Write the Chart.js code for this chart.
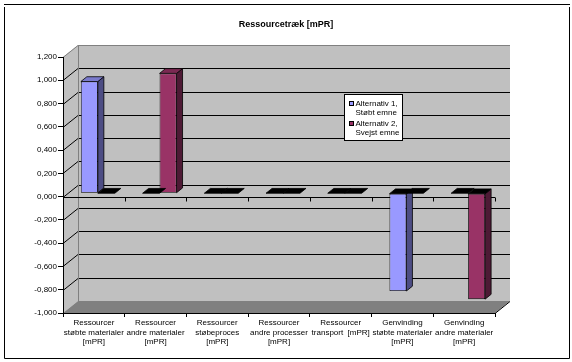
<!DOCTYPE html>
<html><head><meta charset="utf-8">
<style>html,body{margin:0;padding:0;background:#fff;overflow:hidden}canvas{display:block}</style>
<script src="https://cdn.jsdelivr.net/npm/chart.js@4.4.1/dist/chart.umd.min.js"></script>
</head><body>
<canvas id="c" width="572" height="362"></canvas>
<script>
// ---- data ----
const chartTitle = "Ressourcetræk [mPR]";
const categories = [
  ["Ressourcer", "støbte materialer", "[mPR]"],
  ["Ressourcer", "andre materialer", "[mPR]"],
  ["Ressourcer", "støbeproces", "[mPR]"],
  ["Ressourcer", "andre processer", "[mPR]"],
  ["Ressourcer", "transport  [mPR]"],
  ["Genvinding", "støbte materialer", "[mPR]"],
  ["Genvinding", "andre materialer", "[mPR]"]
];
const alternativ1 = [0.96, 0, 0, 0, 0, -0.84, 0];
const alternativ2 = [0, 1.03, 0, 0, 0, 0, -0.91];
const seriesNames = [["Alternativ 1,", "Støbt emne"], ["Alternativ 2,", "Svejst emne"]];
const yMin = -1.0, yMax = 1.2, yStep = 0.2;

// ---- styling ----
const FONT = "'Liberation Sans', Arial, sans-serif";
const WALL = {dx: 15, dy: -12};
const SHIFT = {dx: 4, dy: -3.4};
const DEPTH = {dx: 6, dy: -4.8};
const seriesStyle = [
  {front: '#9999ff', side: '#4d4d84', top: '#7a7acc'},
  {front: '#993366', side: '#4e1a35', top: '#7a2952'}
];

function poly(ctx, pts) {
  ctx.beginPath();
  ctx.moveTo(pts[0][0], pts[0][1]);
  for (let i = 1; i < pts.length; i++) ctx.lineTo(pts[i][0], pts[i][1]);
  ctx.closePath();
}
const crisp = v => Math.round(v) + 0.5;

const threeD = {
  id: 'threeD',
  beforeDraw(chart) {
    const {ctx, chartArea: a, scales: {y}} = chart;
    ctx.save();
    ctx.fillStyle = '#fff';
    ctx.fillRect(0, 0, chart.width, chart.height);
    // frame
    ctx.strokeStyle = '#000'; ctx.lineWidth = 1;
    ctx.beginPath();
    ctx.moveTo(4, 4.5); ctx.lineTo(570, 4.5);
    ctx.moveTo(4.5, 7); ctx.lineTo(4.5, 358.5); ctx.lineTo(569.5, 358.5); ctx.lineTo(569.5, 7);
    ctx.stroke();

    const L = a.left, R = a.right;
    const T = y.getPixelForValue(yMax), B = y.getPixelForValue(yMin);
    const dx = WALL.dx, dy = WALL.dy;
    ctx.fillStyle = '#c0c0c0';
    poly(ctx, [[L, T], [L + dx, T + dy], [L + dx, B + dy], [L, B]]); ctx.fill();
    ctx.fillRect(L + dx, T + dy, R - L, B - T);
    ctx.fillStyle = '#808080';
    poly(ctx, [[L, B], [L + dx, B + dy], [R + dx, B + dy], [R, B]]); ctx.fill();

    // gridlines on side & back wall
    y.ticks.forEach(t => {
      const v = t.value;
      if (v <= yMin + 1e-9) return;
      const py = crisp(y.getPixelForValue(v));
      ctx.strokeStyle = (v >= yMax - 1e-9) ? '#808080' : '#000';
      ctx.beginPath();
      ctx.moveTo(L, py); ctx.lineTo(L + dx, py + dy); ctx.lineTo(R + dx, py + dy);
      ctx.stroke();
    });
    ctx.strokeStyle = '#808080';
    ctx.beginPath();
    ctx.moveTo(crisp(L + dx), T + dy); ctx.lineTo(crisp(L + dx), B + dy);
    ctx.stroke();
    ctx.strokeStyle = '#000';
    ctx.beginPath();
    ctx.moveTo(R, crisp(B)); ctx.lineTo(R + dx, crisp(B) + dy);
    ctx.stroke();
    ctx.restore();
  },
  beforeDatasetsDraw(chart) {
    const {ctx, chartArea: a, scales: {y}} = chart;
    const L = a.left, R = a.right, n = categories.length;
    const p0 = crisp(y.getPixelForValue(0));
    ctx.save();
    ctx.strokeStyle = '#000'; ctx.lineWidth = 1;
    ctx.beginPath();
    ctx.moveTo(L, p0); ctx.lineTo(R, p0);
    for (let i = 0; i <= n; i++) {
      const px = crisp(L + i * (R - L) / n);
      ctx.moveTo(px, p0); ctx.lineTo(px, p0 + 4);
    }
    ctx.stroke();
    ctx.restore();
    ctx.save();
    ctx.translate(SHIFT.dx, SHIFT.dy);
  },
  afterDatasetsDraw(chart) {
    const {ctx} = chart;
    const dx = DEPTH.dx, dy = DEPTH.dy;
    chart.data.datasets.forEach((ds, di) => {
      const meta = chart.getDatasetMeta(di);
      const st = seriesStyle[di];
      meta.data.forEach((el, i) => {
        const p = el.getProps(['x', 'y', 'base', 'width'], true);
        const left = p.x - p.width / 2, right = p.x + p.width / 2;
        const top = Math.min(p.y, p.base), bot = Math.max(p.y, p.base);
        const v = ds.data[i];
        ctx.lineWidth = 0.8;
        ctx.strokeStyle = '#000';
        if (bot - top > 0.5) {
          ctx.fillStyle = st.side;
          poly(ctx, [[right, top], [right + dx, top + dy], [right + dx, bot + dy], [right, bot]]);
          ctx.fill(); ctx.stroke();
        }
        ctx.fillStyle = v > 0 ? st.top : '#000';
        poly(ctx, [[left, top], [left + dx, top + dy], [right + dx, top + dy], [right, top]]);
        ctx.fill(); ctx.stroke();
      });
    });
    ctx.restore();
  },
  afterDraw(chart) {
    const {ctx} = chart;
    ctx.save();
    ctx.fillStyle = '#000';
    ctx.font = 'bold 9px ' + FONT;
    ctx.textAlign = 'center'; ctx.textBaseline = 'middle';
    ctx.fillText(chartTitle, chart.width / 2, 25);
    // legend
    ctx.fillStyle = '#fff';
    ctx.fillRect(344.5, 94.5, 58, 46);
    ctx.strokeStyle = '#000'; ctx.lineWidth = 1;
    ctx.strokeRect(344.5, 94.5, 58, 46);
    ctx.font = '8px ' + FONT;
    ctx.textAlign = 'left'; ctx.textBaseline = 'middle';
    const entryY = [103.5, 124];
    chart.data.datasets.forEach((ds, di) => {
      const yy = entryY[di];
      ctx.fillStyle = ds.backgroundColor;
      ctx.fillRect(349.5, Math.round(yy) - 2.5, 4, 4);
      ctx.strokeStyle = '#000';
      ctx.strokeRect(349.5, Math.round(yy) - 2.5, 4, 4);
      ctx.fillStyle = '#000';
      seriesNames[di].forEach((line, li) => ctx.fillText(line, 355.5, yy + li * 9));
    });
    ctx.restore();
  }
};

new Chart(document.getElementById('c'), {
  type: 'bar',
  data: {
    labels: categories,
    datasets: [
      {label: seriesNames[0].join(' '), data: alternativ1, backgroundColor: seriesStyle[0].front,
       borderColor: '#000', borderWidth: 0.8, borderSkipped: false},
      {label: seriesNames[1].join(' '), data: alternativ2, backgroundColor: seriesStyle[1].front,
       borderColor: '#000', borderWidth: 0.8, borderSkipped: false}
    ]
  },
  options: {
    responsive: false,
    animation: false,
    devicePixelRatio: 1,
    layout: {padding: {top: 57, right: 77, left: 0, bottom: 0}},
    datasets: {bar: {categoryPercentage: 0.55, barPercentage: 1.0, clip: false}},
    plugins: {legend: {display: false}, title: {display: false}, tooltip: {enabled: false}},
    scales: {
      x: {
        position: 'bottom',
        afterFit: s => { s.height = 49; },
        grid: {drawOnChartArea: false, tickLength: 4, color: '#000', offset: true},
        border: {color: '#000', width: 1},
        ticks: {color: '#000', font: {family: FONT, size: 8}, padding: 1,
                maxRotation: 0, minRotation: 0, autoSkip: false}
      },
      y: {
        min: yMin, max: yMax,
        afterFit: s => { s.width = 63; },
        grid: {drawOnChartArea: false, tickLength: 5, color: '#000'},
        border: {color: '#000', width: 1},
        ticks: {stepSize: yStep, color: '#000', font: {family: FONT, size: 8}, padding: 1,
                callback: v => (Math.abs(v) < 1e-9 ? 0 : v).toFixed(3).replace('.', ',')}
      }
    }
  },
  plugins: [threeD]
});
</script>
</body></html>
